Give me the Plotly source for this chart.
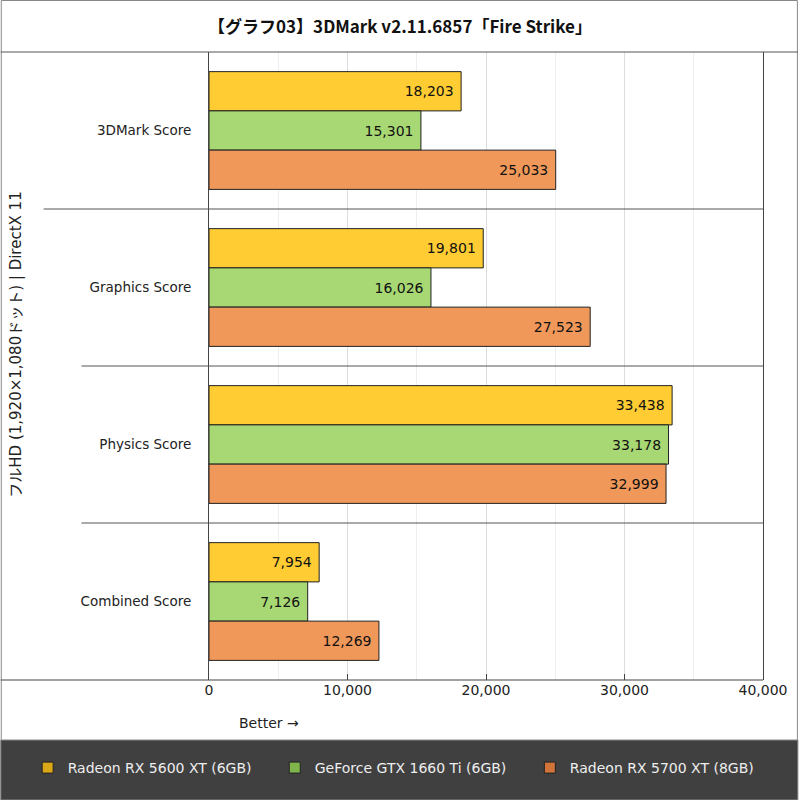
import plotly.graph_objects as go

# scores
categories = ["3DMark Score", "Graphics Score", "Physics Score", "Combined Score"]
rx5600xt = [18203, 19801, 33438, 7954]
gtx1660ti = [15301, 16026, 33178, 7126]
rx5700xt = [25033, 27523, 32999, 12269]
series_names = ["Radeon RX 5600 XT (6GB)", "GeForce GTX 1660 Ti (6GB)", "Radeon RX 5700 XT (8GB)"]
bar_colors = ["#FFCC33", "#A8D873", "#F0985A"]
legend_colors = ["#DAA816", "#7FB44C", "#D0743A"]

W, H = 800, 800
L, R, T, B = 209, 35, 52, 120
pw, ph = W - L - R, H - T - B


def px_x(p):
    return (p - L) / pw


def px_y(p):
    return (H - B - p) / ph


font = "DejaVu Sans, Noto Sans CJK JP, sans-serif"
title_font = "Noto Sans CJK JP, DejaVu Sans, sans-serif"

fig = go.Figure()
for name, vals, col in zip(series_names, [rx5600xt, gtx1660ti, rx5700xt], bar_colors):
    fig.add_trace(go.Bar(
        x=vals, y=categories, orientation="h", name=name, showlegend=False,
        marker=dict(color=col, line=dict(color="#222", width=1)),
        texttemplate="%{x:,} ", textposition="inside", insidetextanchor="end",
        textangle=0, constraintext="none",
        textfont=dict(color="#111", size=14, family=font),
    ))

# legend-only markers (darker swatches like the original), one legend each
legend_ids = ["legend", "legend2", "legend3"]
for name, col, lg in zip(series_names, legend_colors, legend_ids):
    fig.add_trace(go.Scatter(
        x=[None], y=[None], mode="markers", name=name, legend=lg,
        marker=dict(symbol="square", size=11, color=col, line=dict(color="#222", width=1)),
    ))

shapes = []
# outer frame
shapes.append(dict(type="rect", xref="paper", yref="paper", x0=px_x(0.5), x1=px_x(799.5),
                   y0=px_y(0.5), y1=px_y(799.5), line=dict(color="#888", width=1), layer="below"))
# legend band
shapes.append(dict(type="rect", xref="paper", yref="paper", x0=px_x(0), x1=px_x(800),
                   y0=px_y(740), y1=px_y(800), fillcolor="#404040", line=dict(color="#888", width=1),
                   layer="below"))
# title separator
shapes.append(dict(type="line", xref="paper", yref="paper", x0=px_x(0), x1=px_x(800),
                   y0=1, y1=1, line=dict(color="#555", width=1)))
# bottom axis line across full width
shapes.append(dict(type="line", xref="paper", yref="paper", x0=px_x(0), x1=1,
                   y0=0, y1=0, line=dict(color="#444", width=1)))
# category separators
for i, start in zip(range(len(categories) - 1), [43, 81, 81]):
    shapes.append(dict(type="line", xref="paper", yref="y", x0=px_x(start), x1=1,
                       y0=i + 0.5, y1=i + 0.5, line=dict(color="#555", width=1)))

legend_style = dict(orientation="h", xanchor="left", y=px_y(768), yanchor="middle",
                    itemwidth=30, font=dict(color="#EEE", size=14, family=font),
                    bgcolor="rgba(0,0,0,0)")

fig.update_layout(
    width=W, height=H,
    margin=dict(l=L, r=R, t=T, b=B),
    paper_bgcolor="white", plot_bgcolor="white",
    font=dict(family=font, size=14, color="#222"),
    title=dict(text="<b>【グラフ03】3DMark v2.11.6857「Fire Strike」</b>", x=0.5, xanchor="center",
               y=1 - 27 / H, yanchor="middle", font=dict(size=17, color="#111", family=title_font)),
    barmode="group", bargap=0.25, bargroupgap=0,
    showlegend=True,
    legend=dict(x=px_x(27), **legend_style),
    legend2=dict(x=px_x(275), **legend_style),
    legend3=dict(x=px_x(531), **legend_style),
    shapes=shapes,
    annotations=[
        dict(text="Better →", xref="paper", yref="paper", x=px_x(237), y=px_y(723),
             xanchor="left", yanchor="middle", showarrow=False, font=dict(size=14)),
        dict(text="フルHD (1,920×1,080ドット) | DirectX 11", xref="paper", yref="paper",
             x=px_x(15), y=px_y(345), textangle=-90, xanchor="center", yanchor="middle",
             showarrow=False, font=dict(size=15)),
    ],
)

fig.update_xaxes(
    range=[0, 40000], dtick=10000, tickformat=",", showgrid=True, gridcolor="#DDD",
    minor=dict(dtick=5000, showgrid=True, gridcolor="#EEE"),
    ticks="inside", ticklen=6, tickcolor="#444", showline=False, zeroline=False,
    tickfont=dict(size=14), fixedrange=True,
)
fig.update_yaxes(
    autorange="reversed", showline=True, mirror=True, linecolor="#444", linewidth=1,
    ticks="", ticklabelstandoff=14, tickfont=dict(size=13.5), showgrid=False,
)

fig.write_html("out.html", config={"displayModeBar": False},
               post_script="document.body.style.margin='0';")
